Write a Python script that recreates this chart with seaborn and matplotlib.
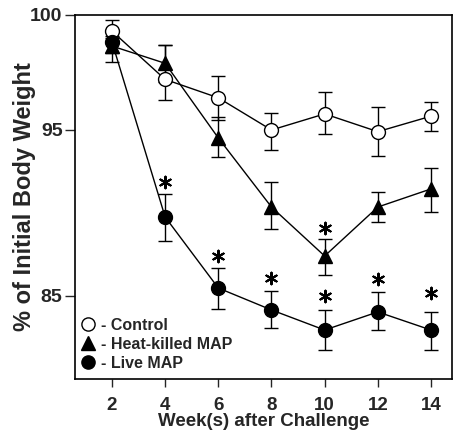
import numpy as np
import pandas as pd
import matplotlib
matplotlib.use("Agg")
import matplotlib.pyplot as plt
import seaborn as sns
from matplotlib.lines import Line2D

weeks = [2, 4, 6, 8, 10, 12, 14]

ctrl_mean = [99.3, 97.2, 96.4, 95.0, 95.7, 94.9, 95.6]
ctrl_hi = [99.8, 98.7, 97.35, 95.74, 96.65, 96.0, 96.2]
ctrl_lo = [98.8, 96.3, 95.43, 93.8, 94.76, 93.43, 94.94]

heat_mean = [98.65, 97.9, 94.52, 90.36, 87.41, 90.36, 91.45]
heat_hi = [99.0, 98.7, 95.57, 91.87, 88.43, 91.27, 92.71]
heat_lo = [97.96, 97.1, 93.37, 89.04, 86.27, 89.46, 90.06]

live_mean = [98.83, 89.76, 85.48, 84.16, 82.95, 84.04, 82.95]
live_hi = [99.1, 91.14, 86.69, 85.3, 84.16, 85.24, 84.04]
live_lo = [98.35, 88.31, 84.22, 83.07, 81.75, 82.95, 81.75]

star_weeks = [4, 6, 8, 10, 10, 12, 14]
star_vals = [91.87, 87.41, 86.08, 89.1, 85.0, 86.0, 85.18]

series_names = ["Control", "Heat-killed MAP", "Live MAP"]
legend_labels = ["- Control", "- Heat-killed MAP", "- Live MAP"]
y_ticks = [85, 95, 100]
x_label = "Week(s) after Challenge"
y_label = "% of Initial Body Weight"

sns.set_style("ticks")
plt.rcParams["font.family"] = ["Liberation Sans", "DejaVu Sans"]
plt.rcParams["font.weight"] = "bold"

# piecewise-linear y scale (the original axis is not uniform)
UP = 23.0   # px per unit above 95
LOW = 16.6  # px per unit below 95

def fwd(v):
    v = np.asarray(v, dtype=float)
    return np.where(v >= 95, (v - 95) * UP, (v - 95) * LOW)

def inv(d):
    d = np.asarray(d, dtype=float)
    return np.where(d >= 0, 95 + d / UP, 95 + d / LOW)

fig = plt.figure(figsize=(4.59, 4.32), dpi=100)
ax = fig.add_axes([75 / 459, 1 - 379 / 432, 377 / 459, 364 / 432])
ax.set_yscale("function", functions=(fwd, inv))

series = [
    ("Control", ctrl_mean, ctrl_lo, ctrl_hi, "o", "white"),
    ("Heat-killed MAP", heat_mean, heat_lo, heat_hi, "^", "black"),
    ("Live MAP", live_mean, live_lo, live_hi, "o", "black"),
]
for name, m, lo, hi, mk, fc in series:
    m = np.array(m); lo = np.array(lo); hi = np.array(hi)
    ax.errorbar(weeks, m, yerr=[m - lo, hi - m], fmt="none", ecolor="black",
                elinewidth=1.0, capsize=5, capthick=1.0, zorder=2)
    d = pd.DataFrame({"week": weeks, "value": m})
    sns.lineplot(data=d, x="week", y="value", color="black", linewidth=1.0,
                 marker=mk, markersize=10, markerfacecolor=fc,
                 markeredgecolor="black", markeredgewidth=1.0, ax=ax, zorder=3)

ax.scatter(star_weeks, star_vals, marker=(6, 2, 0), s=70, color="black",
           linewidths=1.5, zorder=4)

ax.set_xlim(0.61, 14.79)
ax.set_ylim(80.0, 100.0)
ax.set_xticks(weeks)
ax.set_yticks(y_ticks)
ax.set_xticklabels([str(w) for w in weeks], fontsize=13.5, fontweight="bold")
ax.set_yticklabels([str(t) for t in y_ticks], fontsize=14, fontweight="bold")
ax.tick_params(axis="y", direction="out", length=7, width=1, pad=2)
ax.tick_params(axis="x", direction="out", length=6, width=1, pad=7)
for s in ax.spines.values():
    s.set_linewidth(1.2)
    s.set_color("black")

ax.set_xlabel(x_label, fontsize=13.5, fontweight="bold", labelpad=-1)
ax.set_ylabel(y_label, fontsize=17, fontweight="bold", labelpad=-4)

handles = [
    Line2D([], [], marker="o", color="black", markerfacecolor="white", linestyle="none", markersize=9.5),
    Line2D([], [], marker="^", color="black", markerfacecolor="black", linestyle="none", markersize=9.5),
    Line2D([], [], marker="o", color="black", markerfacecolor="black", linestyle="none", markersize=9.5),
]
ax.legend(handles, legend_labels, loc="lower left", frameon=False,
          prop={"weight": "bold", "size": 11.5}, handlelength=0.6,
          handletextpad=0.5, labelspacing=0.25, borderaxespad=0.0,
          bbox_to_anchor=(0.005, 0.005))

fig.savefig("out.png", dpi=100)
